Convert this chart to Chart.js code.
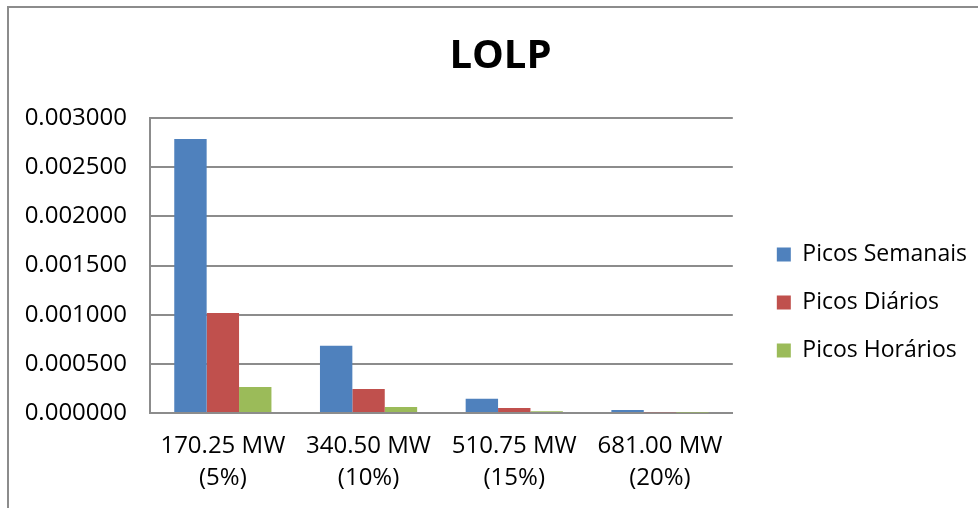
<!DOCTYPE html>
<html>
<head>
<meta charset="utf-8">
<script src="https://cdn.jsdelivr.net/npm/chart.js@4"></script>
<style>
  html, body { margin: 0; padding: 0; background: #fff; overflow: hidden; }
  #wrap { position: absolute; left: 0; top: 0; width: 978px; height: 508px; }
  #frame { position: absolute; left: 7px; top: 6px; width: 1000px; height: 600px; border: 2px solid #8c8c8c; box-sizing: border-box; }
  canvas { position: absolute; left: 0; top: 0; }
</style>
</head>
<body>
<div id="wrap">
  <div id="frame"></div>
  <canvas id="c" width="978" height="508"></canvas>
</div>
<script>
const categories = [
  ['170.25 MW', '(5%)'],
  ['340.50 MW', '(10%)'],
  ['510.75 MW', '(15%)'],
  ['681.00 MW', '(20%)']
];
const picosSemanais = [0.002786, 0.000685, 0.000145, 0.000030];
const picosDiarios  = [0.001017, 0.000244, 0.000050, 0.000008];
const picosHorarios = [0.000264, 0.000060, 0.000017, 0.000004];
const seriesNames = ['Picos Semanais', 'Picos Diários', 'Picos Horários'];
const yTicks = { min: 0, max: 0.003, step: 0.0005 };

const FONT = '"Open Sans", "Liberation Sans", sans-serif';

// shifts the legend and title boxes after layout (positions only)
const boxShift = {
  id: 'boxShift',
  afterLayout(chart) {
    const lg = chart.legend;
    if (lg) { lg.left += 19; lg.right += 19; lg.top += 51; lg.bottom += 51; }
    const tb = chart.titleBlock;
    if (tb) { tb.left += 9; tb.right += 9; }
  }
};

new Chart(document.getElementById('c'), {
  type: 'bar',
  data: {
    labels: categories,
    datasets: [
      { label: seriesNames[0], data: picosSemanais, backgroundColor: '#4f81bd' },
      { label: seriesNames[1], data: picosDiarios,  backgroundColor: '#c0504d' },
      { label: seriesNames[2], data: picosHorarios, backgroundColor: '#9bbb59' }
    ]
  },
  plugins: [boxShift],
  options: {
    responsive: false,
    animation: false,
    devicePixelRatio: 1,
    datasets: { bar: { categoryPercentage: 0.667, barPercentage: 1.0 } },
    layout: { padding: { left: 25, right: 20, top: 10, bottom: 15 } },
    plugins: {
      title: {
        display: true,
        text: 'LOLP',
        color: '#000',
        font: { family: FONT, size: 40, weight: 'bold', lineHeight: 1.2 },
        padding: { top: 23, bottom: 37 }
      },
      legend: {
        position: 'right',
        align: 'center',
        labels: {
          color: '#000',
          font: { family: FONT, size: 23 },
          boxWidth: 14,
          boxHeight: 14,
          padding: 25
        }
      },
      tooltip: { enabled: false }
    },
    scales: {
      x: {
        grid: { display: false, drawTicks: false },
        border: { display: true, color: '#8c8c8c', width: 2 },
        ticks: { color: '#000', font: { family: FONT, size: 24, lineHeight: 1.3 }, padding: 18, maxRotation: 0 },
        afterFit: s => { s.height = 80; }
      },
      y: {
        min: yTicks.min,
        max: yTicks.max,
        grid: { color: '#8c8c8c', lineWidth: 2, drawTicks: false },
        border: { display: true, color: '#8c8c8c', width: 2 },
        ticks: {
          stepSize: yTicks.step,
          color: '#000',
          font: { family: FONT, size: 24 },
          padding: 23,
          callback: v => Number(v).toFixed(6)
        },
        afterFit: s => { s.width = 125; }
      }
    }
  }
});
</script>
</body>
</html>
